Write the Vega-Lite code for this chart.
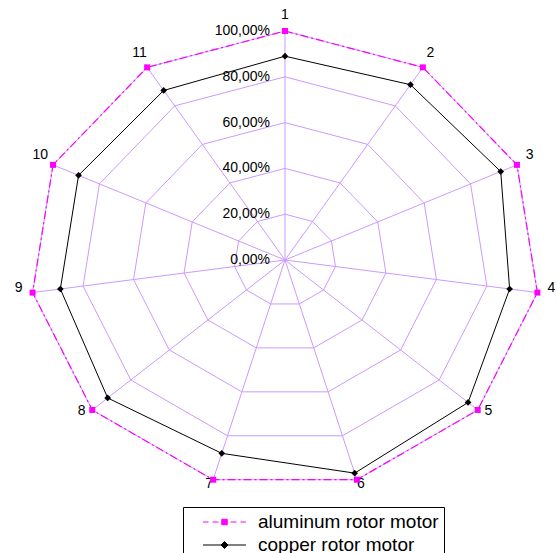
{
  "$schema": "https://vega.github.io/schema/vega-lite/v6.json",
  "width": 557,
  "height": 553,
  "autosize": {"type": "none"},
  "padding": 0,
  "background": "white",
  "config": {
    "view": {"stroke": null},
    "locale": {"number": {"decimal": ",", "thousands": ".", "grouping": [3], "currency": ["", " €"]}},
    "font": "Liberation Sans"
  },
  "datasets": {
    "main": [
      {"cat": 1, "aluminum rotor motor": 1.0, "copper rotor motor": 0.89},
      {"cat": 2, "aluminum rotor motor": 1.0, "copper rotor motor": 0.91},
      {"cat": 3, "aluminum rotor motor": 1.0, "copper rotor motor": 0.93},
      {"cat": 4, "aluminum rotor motor": 1.0, "copper rotor motor": 0.89},
      {"cat": 5, "aluminum rotor motor": 1.0, "copper rotor motor": 0.95},
      {"cat": 6, "aluminum rotor motor": 1.0, "copper rotor motor": 0.97},
      {"cat": 7, "aluminum rotor motor": 1.0, "copper rotor motor": 0.88},
      {"cat": 8, "aluminum rotor motor": 1.0, "copper rotor motor": 0.92},
      {"cat": 9, "aluminum rotor motor": 1.0, "copper rotor motor": 0.89},
      {"cat": 10, "aluminum rotor motor": 1.0, "copper rotor motor": 0.89},
      {"cat": 11, "aluminum rotor motor": 1.0, "copper rotor motor": 0.88}
    ],
    "grid": [
      {"cat": 1, "ring": [0.2, 0.4, 0.6, 0.8, 1.0]},
      {"cat": 2, "ring": [0.2, 0.4, 0.6, 0.8, 1.0]},
      {"cat": 3, "ring": [0.2, 0.4, 0.6, 0.8, 1.0]},
      {"cat": 4, "ring": [0.2, 0.4, 0.6, 0.8, 1.0]},
      {"cat": 5, "ring": [0.2, 0.4, 0.6, 0.8, 1.0]},
      {"cat": 6, "ring": [0.2, 0.4, 0.6, 0.8, 1.0]},
      {"cat": 7, "ring": [0.2, 0.4, 0.6, 0.8, 1.0]},
      {"cat": 8, "ring": [0.2, 0.4, 0.6, 0.8, 1.0]},
      {"cat": 9, "ring": [0.2, 0.4, 0.6, 0.8, 1.0]},
      {"cat": 10, "ring": [0.2, 0.4, 0.6, 0.8, 1.0]},
      {"cat": 11, "ring": [0.2, 0.4, 0.6, 0.8, 1.0]}
    ],
    "ticks": [
      {"level": 0.0},
      {"level": 0.2},
      {"level": 0.4},
      {"level": 0.6},
      {"level": 0.8},
      {"level": 1.0}
    ]
  },
  "encoding": {
    "x": {"field": "x", "type": "quantitative", "axis": null, "scale": {"domain": [-1.1176, 1.0667], "zero": false, "nice": false}},
    "y": {"field": "y", "type": "quantitative", "axis": null, "scale": {"domain": [-1.2795, 1.1354], "zero": false, "nice": false}}
  },
  "layer": [
    {
      "data": {"name": "grid"},
      "transform": [
        {"flatten": ["ring"]},
        {"calculate": "(datum.cat - 1) * 2 * PI / 11", "as": "a"},
        {"calculate": "datum.ring * sin(datum.a)", "as": "x"},
        {"calculate": "datum.ring * cos(datum.a)", "as": "y"}
      ],
      "mark": {"type": "line", "interpolate": "linear-closed", "color": "#CC99FF", "strokeWidth": 1},
      "encoding": {
        "detail": {"field": "ring", "type": "nominal"},
        "order": {"field": "cat", "type": "quantitative"}
      }
    },
    {
      "data": {"name": "main"},
      "transform": [
        {"calculate": "(datum.cat - 1) * 2 * PI / 11", "as": "a"},
        {"calculate": "0", "as": "x"},
        {"calculate": "0", "as": "y"},
        {"calculate": "sin(datum.a)", "as": "ex"},
        {"calculate": "cos(datum.a)", "as": "ey"}
      ],
      "mark": {"type": "rule", "color": "#CC99FF", "strokeWidth": 1},
      "encoding": {
        "x2": {"field": "ex"},
        "y2": {"field": "ey"}
      }
    },
    {
      "data": {"name": "ticks"},
      "transform": [
        {"calculate": "0", "as": "x"},
        {"calculate": "datum.level", "as": "y"}
      ],
      "mark": {"type": "text", "align": "right", "baseline": "middle", "dx": -15, "fontSize": 14, "font": "Liberation Sans", "color": "#000000"},
      "encoding": {
        "text": {"field": "level", "type": "quantitative", "format": ".2%"}
      }
    },
    {
      "data": {"name": "main"},
      "transform": [
        {"calculate": "(datum.cat - 1) * 2 * PI / 11", "as": "a"},
        {"calculate": "1.055 * sin(datum.a)", "as": "x"},
        {"calculate": "1.045 * cos(datum.a) + 0.025", "as": "y"}
      ],
      "mark": {"type": "text", "align": "center", "baseline": "middle", "fontSize": 14, "font": "Liberation Sans", "color": "#000000"},
      "encoding": {
        "text": {"field": "cat", "type": "nominal"}
      }
    },
    {
      "data": {"name": "main"},
      "transform": [
        {"fold": ["aluminum rotor motor", "copper rotor motor"], "as": ["series", "value"]},
        {"filter": "datum.series === 'aluminum rotor motor'"},
        {"calculate": "(datum.cat - 1) * 2 * PI / 11", "as": "a"},
        {"calculate": "datum.value * sin(datum.a)", "as": "x"},
        {"calculate": "datum.value * cos(datum.a)", "as": "y"}
      ],
      "layer": [
        {
          "mark": {"type": "line", "interpolate": "linear-closed", "color": "#FF00FF", "strokeWidth": 1.2, "strokeDash": [8, 3, 2, 3]},
          "encoding": {"order": {"field": "cat", "type": "quantitative"}}
        },
        {
          "mark": {"type": "point", "shape": "square", "filled": true, "opacity": 1, "size": 36, "color": "#FF00FF"},
          "encoding": {}
        }
      ]
    },
    {
      "data": {"name": "main"},
      "transform": [
        {"fold": ["aluminum rotor motor", "copper rotor motor"], "as": ["series", "value"]},
        {"filter": "datum.series === 'copper rotor motor'"},
        {"calculate": "(datum.cat - 1) * 2 * PI / 11", "as": "a"},
        {"calculate": "datum.value * sin(datum.a)", "as": "x"},
        {"calculate": "datum.value * cos(datum.a)", "as": "y"}
      ],
      "layer": [
        {
          "mark": {"type": "line", "interpolate": "linear-closed", "color": "#000000", "strokeWidth": 1},
          "encoding": {"order": {"field": "cat", "type": "quantitative"}}
        },
        {
          "mark": {"type": "point", "shape": "diamond", "filled": true, "opacity": 1, "size": 45, "color": "#000000"},
          "encoding": {}
        }
      ]
    },
    {
      "data": {"name": "main"},
      "transform": [
        {"fold": ["aluminum rotor motor", "copper rotor motor"], "as": ["series", "value"]},
        {"filter": "false"},
        {"calculate": "0", "as": "x"},
        {"calculate": "0", "as": "y"}
      ],
      "mark": {"type": "point", "filled": true, "opacity": 1, "strokeWidth": 1},
      "encoding": {
        "fill": {
          "field": "series", "type": "nominal",
          "scale": {"domain": ["aluminum rotor motor", "copper rotor motor"], "range": ["#FF00FF", "#000000"]},
          "legend": {
            "title": null,
            "orient": "none",
            "legendX": 183,
            "legendY": 507,
            "strokeColor": "#000000",
            "fillColor": "#FFFFFF",
            "padding": 5,
            "labelFontSize": 19,
            "labelFont": "Liberation Sans",
            "labelColor": "#000000",
            "labelLimit": 400,
            "symbolSize": 100,
            "symbolStrokeWidth": 1,
            "symbolOpacity": 1,
            "rowPadding": 3,
            "symbolOffset": 27,
            "labelOffset": 24
          }
        },
        "stroke": {
          "field": "series", "type": "nominal",
          "scale": {"domain": ["aluminum rotor motor", "copper rotor motor"], "range": ["#FF00FF", "#000000"]}
        },
        "shape": {
          "field": "series", "type": "nominal",
          "scale": {"domain": ["aluminum rotor motor", "copper rotor motor"], "range": ["M-4.3,0.1H-3.2M-2.4,0.1H-1.2M1.2,0.1H2.4M3.2,0.1H4.3M-0.55,-0.45H0.55V0.65H-0.55Z", "M-4.3,0.1H4.3M0,-0.6L0.7,0.1L0,0.8L-0.7,0.1Z"]}
        }
      }
    }
  ]
}
